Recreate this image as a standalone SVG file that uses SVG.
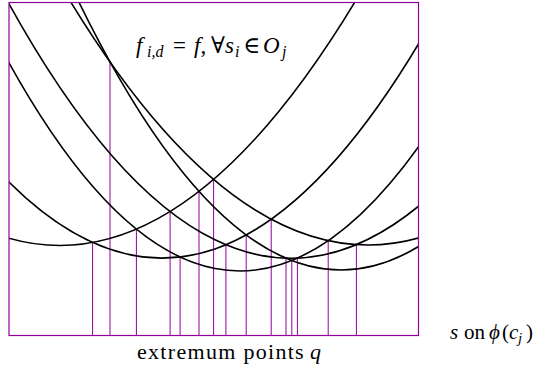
<svg xmlns="http://www.w3.org/2000/svg" width="540" height="374" viewBox="0 0 540 374">
<style>
.frame{fill:none;stroke:#91009b;stroke-width:1.2}
.drop{stroke:#91009b;stroke-width:1;fill:none}
.curve{fill:none;stroke:#000;stroke-width:1.6}
text{font-family:"Liberation Serif","Times New Roman","DejaVu Serif",serif;font-size:21px;fill:#000}
.it{font-style:italic}
.sb{font-size:15px}
.big{font-size:23px}
.bsb{font-size:16px}
</style>
<defs>
<clipPath id="box"><rect x="9" y="2.5" width="409.5" height="333"/></clipPath>
</defs>
<g id="drops">
<path class="drop" d="M92.6 335.5V242.5M110 335.5V62M136.4 335.5V229.1M170.1 335.5V211.5M180.1 335.5V257M199 335.5V191.4M213.6 335.5V179.4M225.9 335.5V244.7M246.2 335.5V235M271.2 335.5V219.2M286 335.5V258.2M291.8 335.5V260.5M297.4 335.5V258.2M328.2 335.5V240.7M356.4 335.5V244.6"/>
</g>
<g id="curves" clip-path="url(#box)">
<path id="cA" class="curve" d="M0 235.42Q180 295.9 360 -6.5"/>
<path id="cP1" class="curve" d="M0 -12.68Q215 387.74 430 196.47"/>
<path id="cP2" class="curve" d="M0 46.36Q215 448.84 430 130.21"/>
<path id="cP3" class="curve" d="M0 173.02Q215 399.14 430 24.32"/>
<path id="cQ1" class="curve" d="M60 -37.95Q245 367.53 430 239.11"/>
<path id="cQ2" class="curve" d="M50 -33.09Q240 299.22 430 234.43"/>
</g>
<rect id="frame" class="frame" x="9" y="2.5" width="409.5" height="333"/>
<g id="labels">
<text class="big" y="53"><tspan class="it" x="136">f</tspan><tspan class="it bsb" x="147" y="57">i,d</tspan><tspan x="173" y="53">=</tspan><tspan class="it" x="194">f</tspan><tspan>,</tspan><tspan x="211">∀</tspan><tspan class="it" x="225">s</tspan><tspan class="it bsb" x="235" y="57">i</tspan><tspan x="243" y="53">∈</tspan><tspan class="it" x="263">O</tspan><tspan class="it bsb" x="282" y="57">j</tspan></text>
<text y="339"><tspan class="it" x="450">s</tspan><tspan x="464">on</tspan><tspan class="it" x="489">ϕ</tspan><tspan x="502">(</tspan><tspan class="it" x="509">c</tspan><tspan class="it sb" x="518" y="343">j</tspan><tspan x="526" y="339">)</tspan></text>
<text y="359" style="font-size:22px;letter-spacing:1.3px"><tspan x="137">extremum points</tspan><tspan class="it" x="310" style="letter-spacing:0">q</tspan></text>
</g>
</svg>
